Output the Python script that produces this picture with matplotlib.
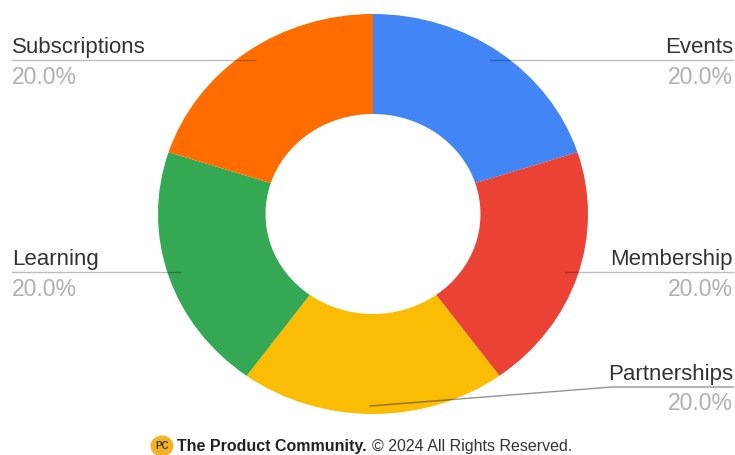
import matplotlib
matplotlib.use('Agg')
import matplotlib.pyplot as plt
from matplotlib.patches import Ellipse

labels = ['Events', 'Membership', 'Partnerships', 'Learning', 'Subscriptions']
shares = [20.0, 20.0, 20.0, 20.0, 20.0]
colors = ['#4285f4', '#ea4335', '#fbbc04', '#34a853', '#ff6d01']

plt.rcParams['font.family'] = ['Liberation Sans', 'DejaVu Sans']

W, H = 735, 455
fig = plt.figure(figsize=(W / 100, H / 100), dpi=100)

# ring axes, stretched a little wider than tall
left, right, top, bottom = 158, 588, 14, 414
ring = fig.add_axes([left / W, 1 - bottom / H, (right - left) / W, (bottom - top) / H])
ring.pie(shares, colors=colors, startangle=90, counterclock=False, radius=1,
         wedgeprops={'width': 0.5, 'linewidth': 0})
ring.set_xlim(-1, 1)
ring.set_ylim(-1, 1)
ring.set_aspect('auto')
ring.axis('off')

# overlay in pixel coordinates for leaders and text
ax = fig.add_axes([0, 0, 1, 1])
ax.set_xlim(0, W)
ax.set_ylim(H, 0)
ax.axis('off')
ax.patch.set_alpha(0)

# text x, leader y, leader end x, leader end y, alignment
callouts = {
    'Events': (733, 60, 490, 60, 'right'),
    'Membership': (733, 272, 565, 272, 'right'),
    'Partnerships': (733, 387, 370, 406, 'right'),
    'Learning': (12, 272, 180, 272, 'left'),
    'Subscriptions': (12, 60, 255, 60, 'left'),
}

for name, share in zip(labels, shares):
    tx, ty, ex, ey, ha = callouts[name]
    # leaders are see-through so they fade over the coloured ring
    if name == 'Partnerships':
        ax.plot([tx, 612, ex], [ty, ty, ey], color='black', alpha=0.42, lw=1)
    else:
        ax.plot([tx, ex], [ty, ey], color='black', alpha=0.26, lw=1)
    ax.text(tx, ty - 12.5, name, ha=ha, va='center', fontsize=16, color='#333333')
    ax.text(tx, ty + 17, f'{share:.1f}%', ha=ha, va='center', fontsize=16.5, color='#b0b0b0')

# footer logo and credit line
ax.add_patch(Ellipse((162, 446), 23, 21, color='#f2b32b', lw=0))
ax.text(162, 446, 'PC', ha='center', va='center', fontsize=7, fontweight='bold', color='#4a3a10')
ax.text(177, 446, 'The Product Community.', ha='left', va='center', fontsize=11.5,
        fontweight='bold', color='#222222')
ax.text(372, 446, '© 2024 All Rights Reserved.', ha='left', va='center', fontsize=11.5,
        color='#333333')

fig.savefig('out.png', dpi=100)
plt.close(fig)
